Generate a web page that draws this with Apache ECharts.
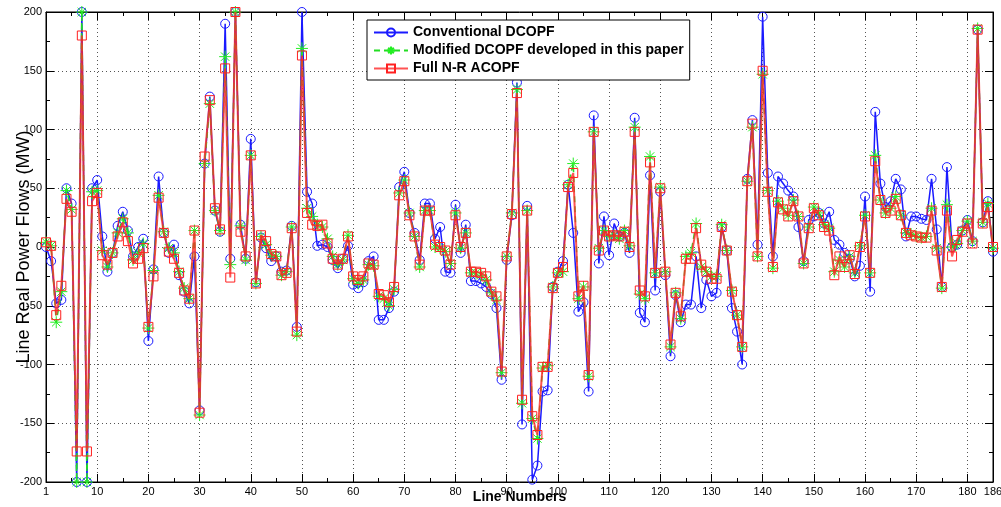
<!DOCTYPE html>
<html>
<head>
<meta charset="utf-8">
<script src="https://cdn.jsdelivr.net/npm/echarts@6/dist/echarts.min.js"></script>
<style>
  html, body { margin: 0; padding: 0; background: #fff; }
  #chart { width: 1001px; height: 507px; }
</style>
</head>
<body>
<div id="chart"></div>
<script>
// line flows, index 0..185 (shown as lines 1..186)
var conventionalDC = [
    0, -12, -48, -45, 50, 37, -200, 200, -200, 50,
    57, 9, -21, -5, 18, 30, 14, -8, 0, 7,
    -80, -19, 60, 12, -5, 2, -24, -38, -48, -8,
    -139, 71, 128, 31, 13, 190, -10, 200, 19, -10,
    92, -30, 8, -1, -12, -8, -21, -20, 18, -68,
    200, 47, 37, 1, 2, 0, -11, -18, -10, 1,
    -32, -35, -30, -12, -8, -62, -62, -52, -38, 51,
    64, 29, 12, -11, 37, 37, 7, 17, -21, -22,
    36, -5, 19, -29, -29, -31, -34, -40, -52, -113,
    -11, 27, 140, -151, 35, -198, -186, -123, -122, -34,
    -21, -12, 53, 12, -55, -47, -123, 112, -14, 26,
    -7, 20, 9, 12, -5, 110, -56, -64, 61, -37,
    47, -24, -93, -41, -64, -49, -49, -8, -52, -28,
    -42, -39, 17, -3, -52, -72, -100, 58, 108, 2,
    196, 63, -8, 60, 54, 48, 43, 17, -12, 23,
    26, 29, 20, 30, 6, 2, -5, -10, -25, -16,
    43, -38, 115, 54, 34, 39, 58, 49, 9, 26,
    26, 24, 23, 58, 15, -34, 68, 0, 2, 14,
    23, 5, 185, 21, 39, -4
];
var modifiedDC = [
    4, 1, -64, -38, 48, 32, -200, 200, -200, 47,
    48, -3, -17, -5, 12, 24, 12, -11, -5, 3,
    -69, -20, 44, 13, -1, -5, -21, -35, -44, 14,
    -143, 71, 122, 31, 14, 162, -15, 200, 18, -11,
    78, -31, 9, 2, -7, -8, -24, -21, 17, -75,
    169, 33, 26, 19, 17, 7, -8, -15, -11, 10,
    -27, -31, -28, -15, -16, -42, -44, -50, -36, 46,
    57, 29, 9, -17, 31, 31, 0, -1, -4, -14,
    29, -1, 12, -22, -22, -24, -28, -39, -45, -107,
    -8, 29, 134, -133, 31, -146, -163, -103, -101, -34,
    -22, -21, 53, 71, -44, -34, -110, 98, -1, 14,
    9, 10, 7, 14, 1, 102, -40, -44, 77, -22,
    51, -21, -85, -39, -61, -8, -5, 20, -17, -21,
    -25, -25, 19, -3, -37, -58, -85, 56, 102, -8,
    147, 48, -18, 39, 33, 27, 40, 26, -14, 17,
    34, 29, 19, 16, -21, -11, -17, -8, -22, 1,
    27, -22, 78, 40, 29, 33, 43, 27, 12, 11,
    9, 8, 9, 33, -1, -35, 36, 0, 3, 14,
    22, 5, 186, 21, 37, -1
];
var fullACOPF = [
    4, 1, -58, -33, 41, 30, -174, 180, -174, 39,
    46, -7, -15, -5, 9, 21, 5, -14, -10, -1,
    -68, -25, 42, 12, -4, -10, -22, -37, -44, 14,
    -141, 77, 125, 33, 15, 152, -26, 200, 13, -8,
    78, -31, 10, 5, -6, -8, -24, -22, 16, -72,
    163, 29, 19, 18, 19, 3, -10, -15, -10, 9,
    -25, -28, -25, -14, -15, -40, -41, -47, -34, 44,
    56, 27, 9, -15, 31, 31, 2, 0, -3, -15,
    27, 0, 12, -21, -21, -22, -25, -38, -42, -106,
    -8, 28, 131, -130, 31, -144, -160, -102, -102, -35,
    -22, -17, 51, 63, -42, -33, -109, 98, -3, 14,
    9, 10, 9, 13, 0, 98, -37, -42, 72, -22,
    50, -21, -83, -39, -59, -10, -10, 16, -15, -21,
    -27, -27, 17, -3, -38, -58, -85, 56, 105, -8,
    150, 47, -17, 38, 32, 26, 39, 26, -14, 16,
    33, 27, 17, 14, -24, -8, -17, -7, -23, 0,
    26, -22, 73, 40, 29, 31, 41, 27, 12, 10,
    9, 8, 8, 31, -3, -34, 31, -8, 6, 13,
    20, 3, 185, 20, 34, 0
];

var seriesNames = ['Conventional DCOPF', 'Modified DCOPF developed in this paper', 'Full N-R ACOPF'];
var xTickValues = [0, 185];
var xTickLabels = ['1', '186'];

function toPoints(arr) {
    return arr.map(function (v, i) { return [i, v]; });
}

var font = "'Liberation Sans', Arial, sans-serif";
var starPath = 'path://M0,5L10,5M5,0L5,10M1.5,1.5L8.5,8.5M8.5,1.5L1.5,8.5';

var tickStyle = {show: true, inside: true, length: 8, lineStyle: {color: '#000'}};
var minorStyle = {show: true, splitNumber: 2, length: 4, lineStyle: {color: '#000'}};
var gridLine = {show: true, lineStyle: {color: '#555', width: 1, type: [1, 3]}};
var edgeLine = {show: true, onZero: false, lineStyle: {color: '#000'}};

var chart = echarts.init(document.getElementById('chart'));
chart.setOption({
    animation: false,
    textStyle: {fontFamily: font},
    grid: {
        left: 46, right: 8, top: 12, bottom: 25,
        containLabel: false, outerBoundsMode: 'none',
        show: true, borderColor: '#000', borderWidth: 1, backgroundColor: '#fff'
    },
    legend: {
        data: seriesNames,
        orient: 'vertical',
        left: 367,
        top: 20,
        padding: [5, 6, 4, 6],
        itemGap: 3,
        itemWidth: 34,
        itemHeight: 10,
        backgroundColor: '#fff',
        borderColor: '#000',
        borderWidth: 1,
        textStyle: {fontSize: 14, fontWeight: 'bold', color: '#000', fontFamily: font, lineHeight: 15}
    },
    xAxis: [{
        type: 'value',
        min: 0,
        max: 185,
        interval: 10,
        name: 'Line Numbers',
        nameLocation: 'middle',
        nameGap: 8,
        nameMoveOverlap: false,
        nameTextStyle: {fontSize: 14, fontWeight: 'bold', color: '#000', fontFamily: font},
        axisLine: edgeLine,
        axisTick: tickStyle,
        minorTick: minorStyle,
        splitLine: gridLine,
        axisLabel: {
            color: '#000', fontSize: 11, margin: 4,
            formatter: function (v) {
                var j = xTickValues.indexOf(v);
                return j >= 0 ? xTickLabels[j] : String(v);
            }
        }
    }, {
        type: 'value',
        position: 'top',
        min: 0,
        max: 185,
        interval: 10,
        axisLine: edgeLine,
        axisTick: tickStyle,
        minorTick: minorStyle,
        splitLine: {show: false},
        axisLabel: {show: false}
    }],
    yAxis: [{
        type: 'value',
        min: -200,
        max: 200,
        interval: 50,
        name: 'Line Real Power Flows (MW)',
        nameLocation: 'middle',
        nameGap: 13,
        nameMoveOverlap: false,
        nameTextStyle: {fontSize: 18, color: '#000', fontFamily: font},
        axisLine: edgeLine,
        axisTick: tickStyle,
        minorTick: minorStyle,
        splitLine: gridLine,
        axisLabel: {color: '#000', fontSize: 11, margin: 4}
    }, {
        type: 'value',
        position: 'right',
        min: -200,
        max: 200,
        interval: 50,
        axisLine: edgeLine,
        axisTick: tickStyle,
        minorTick: minorStyle,
        splitLine: {show: false},
        axisLabel: {show: false}
    }],
    series: [{
        name: seriesNames[0],
        type: 'line',
        clip: false,
        z: 2,
        data: toPoints(conventionalDC),
        symbol: 'circle',
        symbolSize: 9,
        lineStyle: {color: '#1a1aff', width: 1.5},
        itemStyle: {color: 'rgba(0,0,0,0)', borderColor: '#1a1aff', borderWidth: 1}
    }, {
        name: seriesNames[1],
        type: 'line',
        clip: false,
        z: 3,
        data: toPoints(modifiedDC),
        symbol: starPath,
        symbolSize: 12,
        lineStyle: {color: '#22dd22', width: 1.5, type: [6, 4]},
        itemStyle: {color: 'rgba(0,0,0,0)', borderColor: '#22ee22', borderWidth: 1}
    }, {
        name: seriesNames[2],
        type: 'line',
        clip: false,
        z: 4,
        data: toPoints(fullACOPF),
        symbol: 'rect',
        symbolSize: 9,
        lineStyle: {color: 'rgba(255,40,40,0.8)', width: 2},
        itemStyle: {color: 'rgba(0,0,0,0)', borderColor: '#ff2020', borderWidth: 1}
    }]
});
</script>
</body>
</html>
